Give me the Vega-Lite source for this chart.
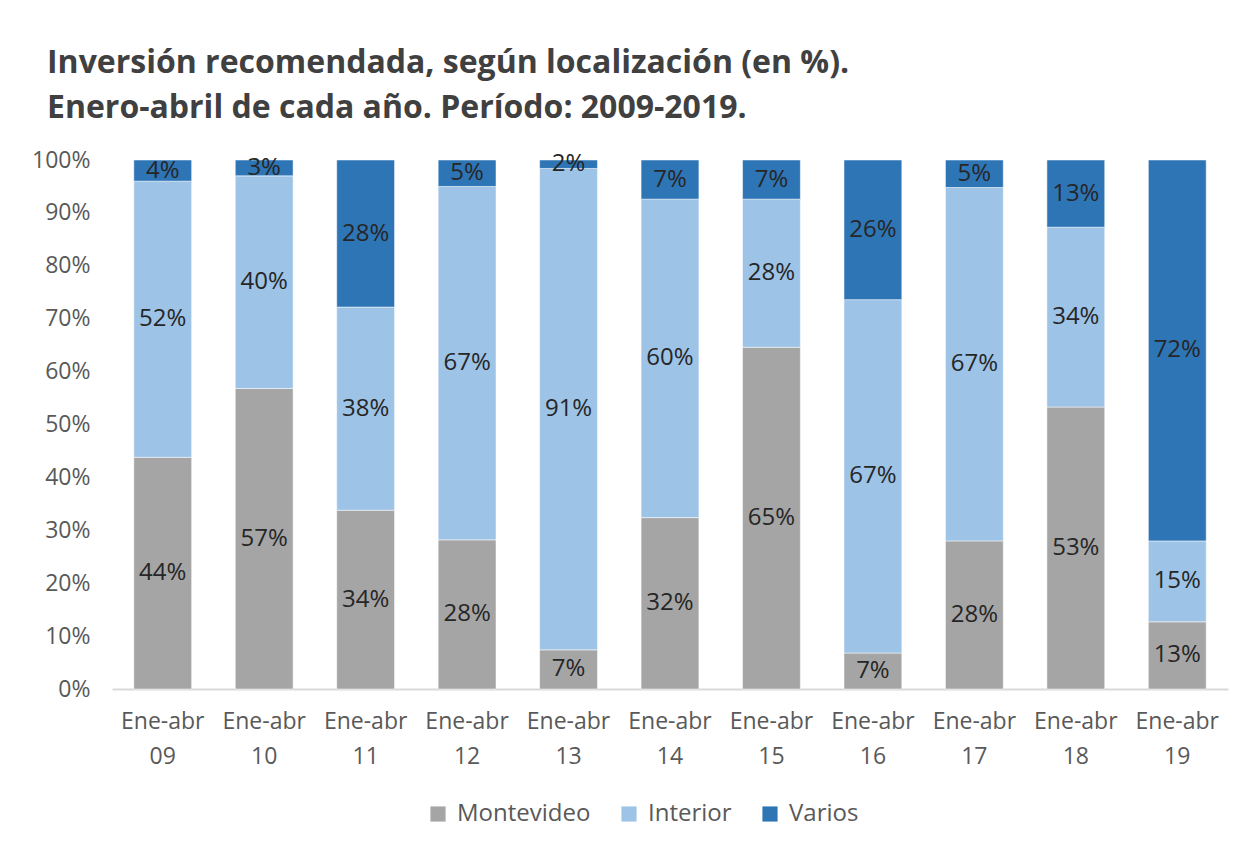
{
  "$schema": "https://vega.github.io/schema/vega-lite/v6.json",
  "width": 1116,
  "height": 529,
  "autosize": "none",
  "padding": {"left": 112, "top": 160, "right": 23, "bottom": 167},
  "background": "white",
  "title": {
    "text": ["Inversión recomendada, según localización (en %).", "Enero-abril de cada año. Período: 2009-2019."],
    "anchor": "start",
    "frame": "group",
    "dx": -65,
    "offset": 24,
    "font": "Open Sans",
    "fontSize": 32,
    "fontWeight": "bold",
    "color": "#404040",
    "lineHeight": 45
  },
  "config": {
    "font": "Open Sans",
    "view": {"stroke": null}
  },
  "data": {
    "values": [
      {"anio": "09", "serie": "Montevideo", "orden": 1, "valor": 43.8},
      {"anio": "09", "serie": "Interior", "orden": 2, "valor": 52.2},
      {"anio": "09", "serie": "Varios", "orden": 3, "valor": 4.0},
      {"anio": "10", "serie": "Montevideo", "orden": 1, "valor": 56.8},
      {"anio": "10", "serie": "Interior", "orden": 2, "valor": 40.2},
      {"anio": "10", "serie": "Varios", "orden": 3, "valor": 3.0},
      {"anio": "11", "serie": "Montevideo", "orden": 1, "valor": 33.8},
      {"anio": "11", "serie": "Interior", "orden": 2, "valor": 38.4},
      {"anio": "11", "serie": "Varios", "orden": 3, "valor": 27.8},
      {"anio": "12", "serie": "Montevideo", "orden": 1, "valor": 28.2},
      {"anio": "12", "serie": "Interior", "orden": 2, "valor": 66.8},
      {"anio": "12", "serie": "Varios", "orden": 3, "valor": 5.0},
      {"anio": "13", "serie": "Montevideo", "orden": 1, "valor": 7.4},
      {"anio": "13", "serie": "Interior", "orden": 2, "valor": 91.0},
      {"anio": "13", "serie": "Varios", "orden": 3, "valor": 1.6},
      {"anio": "14", "serie": "Montevideo", "orden": 1, "valor": 32.4},
      {"anio": "14", "serie": "Interior", "orden": 2, "valor": 60.2},
      {"anio": "14", "serie": "Varios", "orden": 3, "valor": 7.4},
      {"anio": "15", "serie": "Montevideo", "orden": 1, "valor": 64.6},
      {"anio": "15", "serie": "Interior", "orden": 2, "valor": 28.0},
      {"anio": "15", "serie": "Varios", "orden": 3, "valor": 7.4},
      {"anio": "16", "serie": "Montevideo", "orden": 1, "valor": 6.8},
      {"anio": "16", "serie": "Interior", "orden": 2, "valor": 66.8},
      {"anio": "16", "serie": "Varios", "orden": 3, "valor": 26.4},
      {"anio": "17", "serie": "Montevideo", "orden": 1, "valor": 28.0},
      {"anio": "17", "serie": "Interior", "orden": 2, "valor": 66.8},
      {"anio": "17", "serie": "Varios", "orden": 3, "valor": 5.2},
      {"anio": "18", "serie": "Montevideo", "orden": 1, "valor": 53.3},
      {"anio": "18", "serie": "Interior", "orden": 2, "valor": 34.0},
      {"anio": "18", "serie": "Varios", "orden": 3, "valor": 12.7},
      {"anio": "19", "serie": "Montevideo", "orden": 1, "valor": 12.7},
      {"anio": "19", "serie": "Interior", "orden": 2, "valor": 15.3},
      {"anio": "19", "serie": "Varios", "orden": 3, "valor": 72.0}
    ]
  },
  "encoding": {
    "x": {
      "field": "anio",
      "type": "ordinal",
      "sort": null,
      "title": null,
      "scale": {"paddingInner": 0.43, "paddingOuter": 0.215},
      "axis": {
        "labelExpr": "['Ene-abr', datum.label]",
        "labelAngle": 0,
        "labelFontSize": 23,
        "labelColor": "#595959",
        "labelLineHeight": 35,
        "labelPadding": 21,
        "ticks": false,
        "domainColor": "#D9D9D9",
        "domainWidth": 2
      }
    },
    "y": {
      "field": "valor",
      "type": "quantitative",
      "stack": "zero",
      "title": null,
      "scale": {"domain": [0, 100], "nice": false},
      "axis": {
        "values": [0, 10, 20, 30, 40, 50, 60, 70, 80, 90, 100],
        "labelExpr": "datum.value + '%'",
        "labelFontSize": 23,
        "labelColor": "#595959",
        "labelPadding": 22,
        "ticks": false,
        "domain": false,
        "grid": false
      }
    },
    "order": {"field": "orden", "type": "quantitative"}
  },
  "layer": [
    {
      "mark": {"type": "bar", "stroke": "white", "strokeWidth": 0.5},
      "encoding": {
        "color": {
          "field": "serie",
          "type": "nominal",
          "scale": {"domain": ["Montevideo", "Interior", "Varios"], "range": ["#A5A5A5", "#9DC3E6", "#2E75B6"]},
          "legend": {
            "title": null,
            "orient": "none",
            "legendX": 314,
            "legendY": 642,
            "direction": "horizontal",
            "symbolType": "square",
            "symbolSize": 230,
            "symbolStrokeWidth": 0,
            "labelFontSize": 24,
            "labelOffset": 7,
            "labelColor": "#595959",
            "columnPadding": 26
          }
        }
      }
    },
    {
      "mark": {"type": "text", "fontSize": 24, "color": "#262626", "baseline": "middle"},
      "encoding": {
        "y": {"field": "valor", "type": "quantitative", "stack": "zero", "bandPosition": 0.5},
        "text": {"value": {"expr": "format(datum.valor, '.0f') + '%'"}}
      }
    }
  ]
}
